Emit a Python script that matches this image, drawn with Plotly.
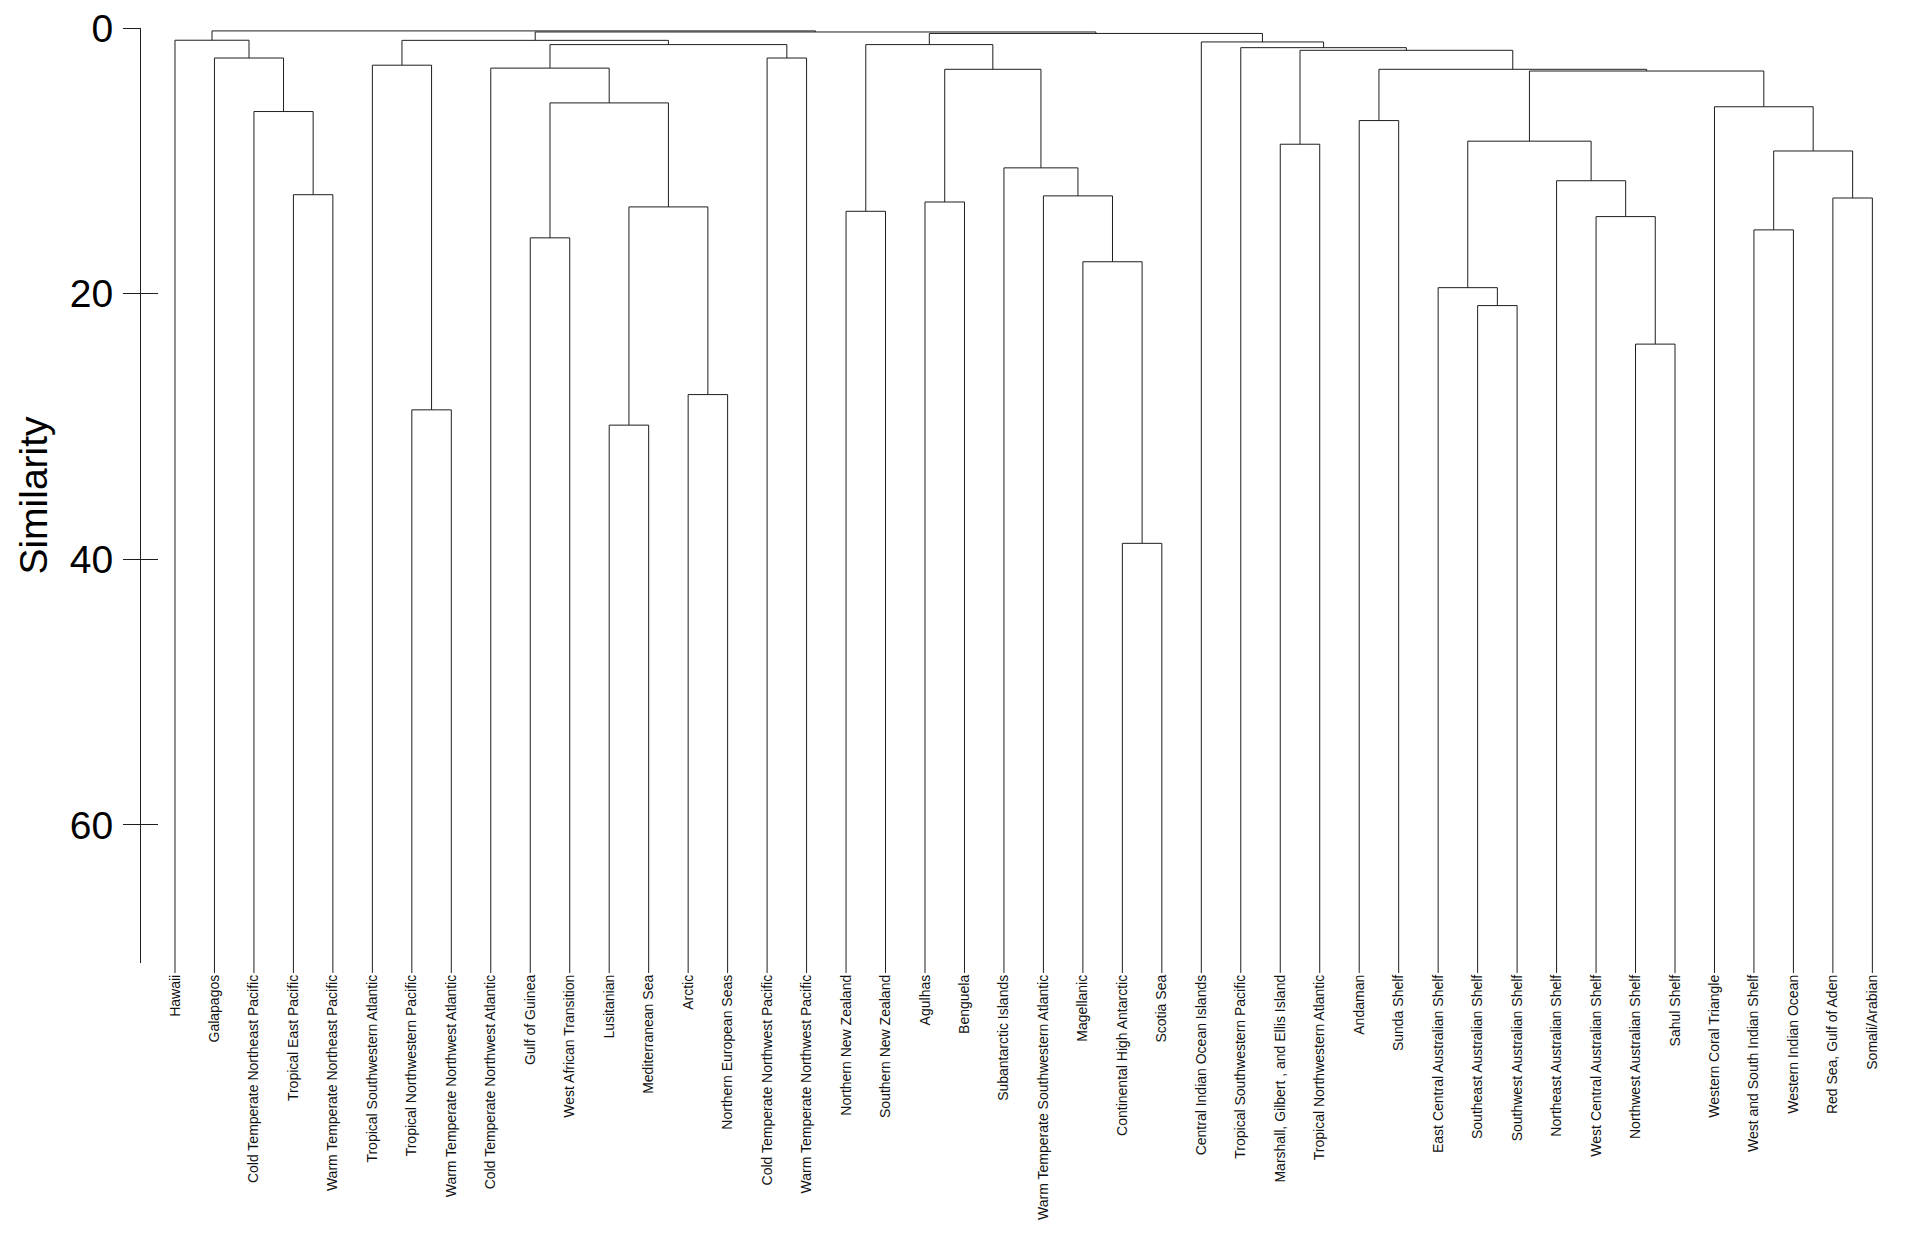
import plotly.graph_objects as go

# ---------------- data ----------------
leaf_labels = [
    "Hawaii", "Galapagos", "Cold Temperate Northeast Pacific", "Tropical East Pacific",
    "Warm Temperate Northeast Pacific", "Tropical Southwestern Atlantic",
    "Tropical Northwestern Pacific", "Warm Temperate Northwest Atlantic",
    "Cold Temperate Northwest Atlantic", "Gulf of Guinea", "West African Transition",
    "Lusitanian", "Mediterranean Sea", "Arctic", "Northern European Seas",
    "Cold Temperate Northwest Pacific", "Warm Temperate Northwest Pacific",
    "Northern New Zealand", "Southern New Zealand", "Agulhas", "Benguela",
    "Subantarctic Islands", "Warm Temperate Southwestern Atlantic", "Magellanic",
    "Continental High Antarctic", "Scotia Sea", "Central Indian Ocean Islands",
    "Tropical Southwestern Pacific", "Marshall, Gilbert , and Ellis Island",
    "Tropical Northwestern Atlantic", "Andaman", "Sunda Shelf",
    "East Central Australian Shelf", "Southeast Australian Shelf",
    "Southwest Australian Shelf", "Northeast Australian Shelf",
    "West Central Australian Shelf", "Northwest Australian Shelf", "Sahul Shelf",
    "Western Coral Triangle", "West and South Indian Shelf", "Western Indian Ocean",
    "Red Sea, Gulf of Aden", "Somali/Arabian",
]

# merges: (left child, right child, similarity level); children are leaf
# indices (ints) or names of earlier merges (strings)
merge_names = []
merge_left = []
merge_right = []
merge_height = []

def merge(name, a, b, h):
    merge_names.append(name)
    merge_left.append(a)
    merge_right.append(b)
    merge_height.append(h)

merge("m3_4", 3, 4, 12.55)
merge("m2_4", 2, "m3_4", 6.29)
merge("m1_4", 1, "m2_4", 2.26)
merge("G1", 0, "m1_4", 0.92)

merge("m6_7", 6, 7, 28.75)
merge("m5_7", 5, "m6_7", 2.80)
merge("m9_10", 9, 10, 15.8)
merge("m11_12", 11, 12, 29.9)
merge("m13_14", 13, 14, 27.6)
merge("m11_14", "m11_12", "m13_14", 13.47)
merge("m9_14", "m9_10", "m11_14", 5.64)
merge("m8_14", 8, "m9_14", 3.02)
merge("m15_16", 15, 16, 2.26)
merge("m8_16", "m8_14", "m15_16", 1.25)
merge("G2", "m5_7", "m8_16", 0.93)

merge("m17_18", 17, 18, 13.8)
merge("m19_20", 19, 20, 13.1)
merge("m24_25", 24, 25, 38.8)
merge("m23_25", 23, "m24_25", 17.6)
merge("m22_25", 22, "m23_25", 12.64)
merge("m21_25", 21, "m22_25", 10.53)
merge("m19_25", "m19_20", "m21_25", 3.11)
merge("G3", "m17_18", "m19_25", 1.25)

merge("m28_29", 28, 29, 8.75)
merge("m30_31", 30, 31, 6.97)
merge("m33_34", 33, 34, 20.9)
merge("m32_34", 32, "m33_34", 19.55)
merge("m37_38", 37, 38, 23.8)
merge("m36_38", 36, "m37_38", 14.2)
merge("m35_38", 35, "m36_38", 11.5)
merge("m32_38", "m32_34", "m35_38", 8.52)
merge("m40_41", 40, 41, 15.2)
merge("m42_43", 42, 43, 12.8)
merge("m40_43", "m40_41", "m42_43", 9.26)
merge("m39_43", 39, "m40_43", 5.93)
merge("m32_43", "m32_38", "m39_43", 3.24)
merge("m30_43", "m30_31", "m32_43", 3.11)
merge("m28_43", "m28_29", "m30_43", 1.68)
merge("m27_43", 27, "m28_43", 1.48)
merge("G4", 26, "m27_43", 1.05)

merge("G34", "G3", "G4", 0.41)
merge("G234", "G2", "G34", 0.30)
merge("ROOT", "G1", "G234", 0.22)

leaf_level = 71.15          # where leaf stems end (bottom)
axis_max = 70.4             # end of the drawn similarity axis
y_ticks = [0, 20, 40, 60]

# ---------------- build dendrogram paths ----------------
leaf_pos = list(range(1, len(leaf_labels) + 1))
node_x = {}
node_h = {}
for i, p in enumerate(leaf_pos):
    node_x[i] = p
    node_h[i] = leaf_level

xs, ys = [], []
for name, a, b, h in zip(merge_names, merge_left, merge_right, merge_height):
    xa, ha = node_x[a], node_h[a]
    xb, hb = node_x[b], node_h[b]
    xs += [xa, xa, xb, xb, None]
    ys += [ha, h, h, hb, None]
    node_x[name] = (xa + xb) / 2.0
    node_h[name] = h

line_col = "#1e1e1e"
font_family = "Liberation Sans, Arial, sans-serif"

fig = go.Figure()
# helper traces so the similarity axes are active (drawn first, underneath)
fig.add_trace(go.Scatter(x=[None], y=[None], yaxis="y2", xaxis="x",
                         showlegend=False, hoverinfo="skip"))
fig.add_trace(go.Scatter(x=[None], y=[None], yaxis="y3", xaxis="x",
                         showlegend=False, hoverinfo="skip"))
fig.add_trace(go.Scatter(
    x=xs, y=ys, mode="lines",
    line=dict(color=line_col, width=1),
    hoverinfo="skip", showlegend=False,
    xaxis="x", yaxis="y",
))

# page body adds an 8px offset; figure sized to fit the 1920x1236 window
W, H = 1904, 1220
m_l, m_r, m_t, m_b = 133, 12, 20, 255
plot_h = H - m_t - m_b
px_per_unit = plot_h / leaf_level
axis_bottom_frac = (leaf_level - axis_max) * px_per_unit / plot_h

fig.update_layout(
    width=W, height=H,
    margin=dict(l=m_l, r=m_r, t=m_t, b=m_b, pad=0),
    paper_bgcolor="white", plot_bgcolor="rgba(0,0,0,0)",
    showlegend=False,
    font=dict(family=font_family, color="#000000"),
    xaxis=dict(
        range=[0.139, 44.70],
        showgrid=False, zeroline=False, showline=False,
        tickmode="array", tickvals=leaf_pos, ticktext=leaf_labels,
        tickangle=-90, ticks="", ticklen=0, ticklabelstandoff=-2,
        tickfont=dict(size=14, color="#111111", family=font_family),
        ticklabeloverflow="allow",
        automargin=False,
    ),
    yaxis=dict(
        range=[leaf_level, 0], domain=[0, 1],
        showgrid=False, zeroline=False, showline=False,
        showticklabels=False, ticks="", automargin=False,
    ),
    yaxis2=dict(
        range=[axis_max, 0], domain=[axis_bottom_frac, 1],
        anchor="x", side="left",
        showgrid=False, zeroline=False,
        showline=True, linecolor=line_col, linewidth=1,
        tickmode="array", tickvals=y_ticks,
        ticks="outside", ticklen=17, tickwidth=1, tickcolor=line_col,
        tickfont=dict(size=39, color="#000000", family=font_family),
        ticklabeloverflow="allow", ticklabelstandoff=2,
        title=dict(text="Similarity", font=dict(size=39, color="#000000", family=font_family),
                   standoff=10),
        automargin=False,
    ),
    yaxis3=dict(
        range=[axis_max, 0], overlaying="y2", anchor="x", side="left",
        showgrid=False, zeroline=False, showline=False,
        tickmode="array", tickvals=y_ticks,
        ticks="inside", ticklen=17, tickwidth=1, tickcolor=line_col,
        showticklabels=False, automargin=False,
    ),
)

fig.write_html("out.html")
